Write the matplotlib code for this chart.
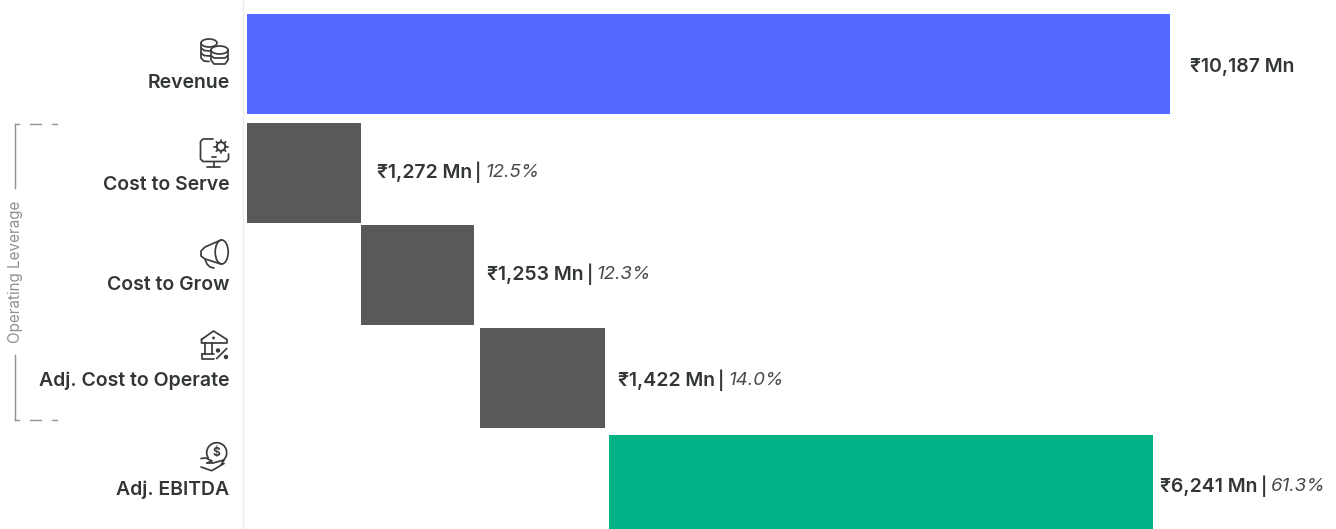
import numpy as np
import matplotlib
matplotlib.use("Agg")
import matplotlib.pyplot as plt
from matplotlib.patches import Circle, Ellipse, Arc

W, H = 1336, 529
plt.rcParams["font.family"] = ["Inter", "DejaVu Sans"]

categories = ["Revenue", "Cost to Serve", "Cost to Grow", "Adj. Cost to Operate", "Adj. EBITDA"]
# bars as drawn in the picture, Rs Mn (the picture is not quite to scale)
bar_left = [0, 0, 1258, 2572, 3996]
bar_len = [10187, 1258, 1247, 1380, 6004]
amount_labels = ["₹10,187 Mn", "₹1,272 Mn", "₹1,253 Mn", "₹1,422 Mn", "₹6,241 Mn"]
pct_labels = ["", "12.5%", "12.3%", "14.0%", "61.3%"]
bar_colors = ["#5469FF", "#595959", "#595959", "#595959", "#00B386"]

# layout, pixels
row_top = [14, 123, 225, 328, 435]
row_h = 100
cat_y = [82.5, 184.5, 285.5, 380.5, 489.5]
val_x = [1190, 377, 487, 618, 1160]
val_y = [66.5, 172.5, 274.5, 380.5, 486.5]
TXT = "#333636"
GREY = "#8f9292"

fig = plt.figure(figsize=(W / 100, H / 100), dpi=100, facecolor="white")

# bar axes: x in Rs Mn, y in pixels
ax = fig.add_axes([247 / W, 0, (1170 - 247) / W, 1])
ax.set_xlim(0, 10187)
ax.set_ylim(H, 0)
ax.axis("off")
ax.barh([t + row_h / 2 for t in row_top], bar_len, height=row_h, left=bar_left, color=bar_colors)

# overlay in pixel coordinates for text and icons
px = fig.add_axes([0, 0, 1, 1], facecolor="none")
px.set_xlim(0, W)
px.set_ylim(H, 0)
px.axis("off")

px.plot([243, 243], [0, H], color="#ececec", lw=1)

renderer = fig.canvas.get_renderer()
for name, y in zip(categories, cat_y):
    px.text(229.5, y, name, ha="right", va="center", fontsize=14, fontweight=600, color=TXT)

for amount, pct, x, y in zip(amount_labels, pct_labels, val_x, val_y):
    t = px.text(x, y, amount, ha="left", va="center", fontsize=14, fontweight=600, color=TXT)
    if pct:
        end = t.get_window_extent(renderer).x1
        s = px.text(end + 3, y, "|", ha="left", va="center", fontsize=12.5, fontweight=600, color=TXT)
        end = s.get_window_extent(renderer).x1
        px.text(end + 4, y, pct, ha="left", va="center", fontsize=13.5, style="italic", color="#4a4a4a")

# Operating Leverage bracket
px.text(16, 271.5, "Operating Leverage", rotation=90, ha="center", va="center", fontsize=11, color=GREY)
px.plot([15, 15], [124, 188], color=GREY, lw=1)
px.plot([15, 15], [355, 420], color=GREY, lw=1)
for y in (124, 420):
    for x0, x1 in ((15, 19), (30, 41), (52, 57)):
        px.plot([x0, x1], [y, y], color=GREY, lw=1)

ICON = dict(color="#3a3d3d", lw=1.25, solid_capstyle="round", solid_joinstyle="round")


def line(xs, ys):
    px.plot(xs, ys, **ICON)


def ring(cx, cy, w, h):
    px.add_patch(Ellipse((cx, cy), w, h, fill=False, ec=ICON["color"], lw=ICON["lw"]))


# revenue: coin stacks
ring(209, 43, 16, 8)
line([201, 201, 204, 209], [43, 58, 61, 61.5])
line([201, 204, 210], [48, 50.5, 51])
line([201, 204, 210], [53, 55.5, 56])
ring(219.5, 50, 17, 8)
line([211, 211, 214, 225, 228, 228], [50, 60, 64, 64, 60, 50])
line([211, 214, 225, 228], [55.5, 58, 58, 55.5])

# cost to serve: monitor with gear
line([213, 203, 200.5, 200.5, 203, 226, 228.5, 228.5], [139, 139, 141.5, 159, 161.5, 161.5, 159, 154])
line([213.5, 213.5], [161.5, 166.5])
line([207, 220], [166.5, 166.5])
line([212, 216], [157, 157])
px.add_patch(Circle((221, 146.5), 4.3, fill=False, ec=ICON["color"], lw=1.4))
for a in np.arange(8) * np.pi / 4:
    line([221 + 4.3 * np.cos(a), 221 + 6.6 * np.cos(a)], [146.5 + 4.3 * np.sin(a), 146.5 + 6.6 * np.sin(a)])

# cost to grow: megaphone
ring(221.7, 252, 13, 24)
line([221, 205, 201, 201, 205, 221], [240, 247, 251, 256, 259, 264])
line([205, 207, 210, 214], [259, 264, 267, 268])

# adj. cost to operate: bank and percent
line([201.5, 213.5, 227, 227, 201.5, 201.5], [339.5, 331, 339.5, 343, 343, 339.5])
px.add_patch(Circle((213.5, 338), 0.7, color=ICON["color"]))
line([205, 205], [343, 354])
line([211.7, 211.7], [343, 354])
line([201.5, 214], [354, 354])
line([201.5, 201.5, 214], [354, 358.5, 358.5])
line([216.7, 226.7], [358.5, 348.5])
px.add_patch(Circle((218, 350.5), 1.5, color=ICON["color"]))
px.add_patch(Circle((226, 357), 1.5, color=ICON["color"]))

# adj. ebitda: hand with coin
px.add_patch(Arc((216.7, 452.7), 20, 20, angle=0, theta1=-215, theta2=50, color=ICON["color"], lw=1.25))
px.text(216.7, 452.7, "$", ha="center", va="center", fontsize=8.5, fontweight="bold", color=ICON["color"])
line([201, 206, 212, 207], [458.5, 458, 461, 463])
line([207, 213, 224, 221], [463, 463, 460, 465])
line([201, 211.7, 224], [467, 470.7, 463.5])

fig.savefig("out.png", dpi=100)
